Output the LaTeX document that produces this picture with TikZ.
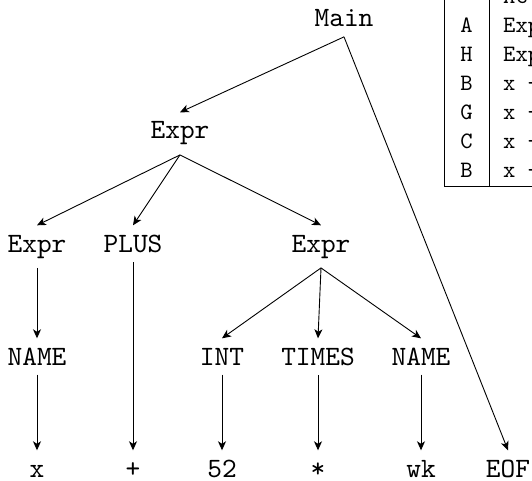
\documentclass[tikz,border=0pt]{standalone}
\usepackage{fontspec}
\setmonofont{lmmono10-regular.otf}
\usetikzlibrary{arrows.meta}
\begin{document}
\begin{tikzpicture}[x=1pt,y=-1pt,
  tnode/.style={font=\fontsize{28}{33}\selectfont\ttfamily, inner xsep=2pt,
    inner ysep=9.5pt, text height=17pt, anchor=base},
  leaf/.style={tnode, inner ysep=2pt, text height=24.5pt, text depth=0pt},
  link/.style={line width=0.9pt, -{Stealth[length=9pt,width=8pt,inset=2.5pt]}},
  tcell/.style={font=\fontsize{23.5}{28}\selectfont\ttfamily, inner sep=0pt, anchor=base},
  tcellL/.style={tcell, anchor=base west},
  rule/.style={line width=0.9pt}]
\useasboundingbox (0,0) rectangle (532,481);
\clip (0,0) rectangle (532,481);

% parse tree
\node[tnode] (main)  at (344,27)  {Main};
\node[tnode] (e1)    at (180,139) {Expr};
\node[tnode] (e2)    at (37,252)  {Expr};
\node[tnode] (plus)  at (133,252) {PLUS};
\node[tnode] (e3)    at (321,252) {Expr};
\node[tnode] (n1)    at (37,365)  {NAME};
\node[tnode] (int)   at (222,365) {INT};
\node[tnode] (times) at (318,365) {TIMES};
\node[tnode] (n2)    at (421,365) {NAME};
\node[leaf] (x)     at (37,477)  {x};
\node[leaf] (p)     at (133,477) {+};
\node[leaf] (n52)   at (222,477) {52};
\node[leaf] (star)  at (318,477) {*};
\node[leaf] (wk)    at (421,477) {wk};
\node[leaf] (eof)   at (508,477) {EOF};

\draw[link] (main.south) -- (e1.north);
\draw[link] (main.south) -- (eof.north);
\draw[link] (e1.south) -- (e2.north);
\draw[link] (e1.south) -- (plus.north);
\draw[link] (e1.south) -- (e3.north);
\draw[link] (e2.south) -- (n1.north);
\draw[link] (plus.south) -- (p.north);
\draw[link] (e3.south) -- (int.north);
\draw[link] (e3.south) -- (times.north);
\draw[link] (e3.south) -- (n2.north);
\draw[link] (n1.south) -- (x.north);
\draw[link] (int.south) -- (n52.north);
\draw[link] (times.south) -- (star.north);
\draw[link] (n2.south) -- (wk.north);

% trace table
\coordinate (tl) at (444,-10);
\coordinate (tm) at (489,-10);
\coordinate (bl) at (444,186);
\coordinate (bm) at (489,186);
\coordinate (br) at (545,186);
\draw[rule] (tl) -- (bl) -- (br);
\draw[rule] (tm) -- (bm);

\node[tcellL] (h0) at (503,3.7) {Ac};
\node[tcell] (r1a) at (466.5,32.2)  {A};
\node[tcellL] (r1b) at (503,32.2)   {Exp};
\node[tcell] (r2a) at (466.5,61.2)  {H};
\node[tcellL] (r2b) at (503,61.2)   {Exp};
\node[tcell] (r3a) at (466.5,90.2)  {B};
\node[tcellL] (r3b) at (503,90.2)   {x +};
\node[tcell] (r4a) at (466.5,119.2) {G};
\node[tcellL] (r4b) at (503,119.2)  {x +};
\node[tcell] (r5a) at (466.5,148.2) {C};
\node[tcellL] (r5b) at (503,148.2)  {x +};
\node[tcell] (r6a) at (466.5,177.2) {B};
\node[tcellL] (r6b) at (503,177.2)  {x +};
\end{tikzpicture}
\end{document}
